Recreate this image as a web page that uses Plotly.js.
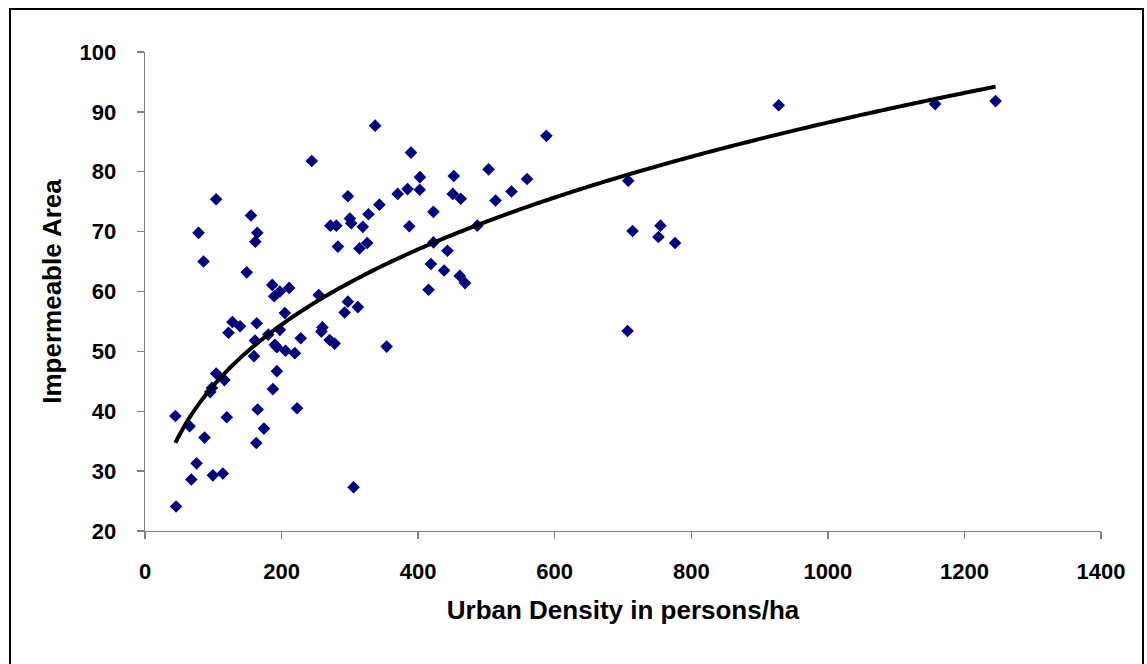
<!DOCTYPE html>
<html>
<head>
<meta charset="utf-8">
<script src="https://cdn.plot.ly/plotly-3.0.1.min.js"></script>
<style>
  html, body { margin: 0; padding: 0; background: #fff; }
  #wrap { position: relative; width: 1147px; height: 664px; overflow: hidden; }
  #chart { position: absolute; left: 0; top: 0; width: 1147px; height: 664px; }
  #frame { position: absolute; left: 9px; top: 8px; width: 1135px; height: 670px;
           border: 2.5px solid #000; pointer-events: none; box-sizing: border-box; }
</style>
</head>
<body>
<div id="wrap">
  <div id="chart"></div>
  <div id="frame"></div>
</div>
<script>
// Urban density (persons/ha)
const density = [
  244.2, 104.2, 155.2, 78.4, 164.4, 161.5, 85.7, 149.0, 271.4, 280.2,
  282.5, 186.3, 197.5, 211.1, 189.2, 254.4, 204.8, 128.0, 139.2, 163.6,
  122.2, 259.8, 258.3, 270.4, 277.7, 228.1, 180.5, 197.5, 161.1, 190.2,
  193.1, 205.8, 219.4, 159.6, 104.2, 116.3, 98.0, 95.5, 193.1, 187.3,
  44.5, 65.3, 119.8, 165.0, 222.7, 87.2, 174.2, 163.0, 75.5, 67.8,
  99.4, 114.0, 45.5, 337.0, 389.5, 402.6, 370.0, 384.5, 402.3, 297.1,
  343.3, 327.3, 300.0, 302.0, 319.0, 387.0, 314.1, 325.4, 418.7, 415.2,
  297.1, 311.7, 292.3, 353.9, 587.8, 452.2, 503.2, 559.5, 536.7, 513.4,
  450.7, 462.4, 422.4, 486.6, 422.4, 442.9, 438.0, 461.0, 468.7, 928.0,
  1157.1, 1245.6, 707.7, 714.0, 754.8, 751.9, 776.2, 706.7, 305.4
];
// Impermeable area (%)
const impermeable = [
  81.8, 75.4, 72.7, 69.8, 69.8, 68.3, 65.0, 63.2, 71.0, 71.0,
  67.5, 61.1, 60.0, 60.6, 59.2, 59.4, 56.4, 54.9, 54.2, 54.7,
  53.1, 54.0, 53.3, 51.9, 51.3, 52.2, 52.8, 53.6, 51.8, 51.1,
  50.7, 50.1, 49.7, 49.2, 46.3, 45.2, 43.9, 43.2, 46.7, 43.7,
  39.2, 37.5, 39.0, 40.3, 40.5, 35.6, 37.1, 34.7, 31.3, 28.6,
  29.3, 29.6, 24.1, 87.7, 83.2, 79.1, 76.3, 77.1, 77.0, 75.9,
  74.5, 72.9, 72.2, 71.4, 70.8, 70.9, 67.2, 68.1, 64.6, 60.3,
  58.3, 57.4, 56.5, 50.8, 86.0, 79.3, 80.4, 78.8, 76.7, 75.2,
  76.3, 75.5, 73.3, 71.0, 68.2, 66.8, 63.5, 62.6, 61.4, 91.1,
  91.3, 91.8, 78.5, 70.1, 71.0, 69.1, 68.1, 53.4, 27.3
];
const xTicks = [0, 200, 400, 600, 800, 1000, 1200, 1400];
const yTicks = [20, 30, 40, 50, 60, 70, 80, 90, 100];

// Power trendline (least squares in log-log space, as a spreadsheet does)
function powerFit(xs, ys) {
  let n = xs.length, sx = 0, sy = 0, sxx = 0, sxy = 0;
  for (let i = 0; i < n; i++) {
    const lx = Math.log(xs[i]), ly = Math.log(ys[i]);
    sx += lx; sy += ly; sxx += lx * lx; sxy += lx * ly;
  }
  const p = (n * sxy - sx * sy) / (n * sxx - sx * sx);
  const lc = (sy - p * sx) / n;
  return { c: Math.exp(lc), p: p };
}
const fit = powerFit(density, impermeable);
const xmin = Math.min(...density), xmax = Math.max(...density);
const trendX = [], trendY = [];
for (let i = 0; i <= 200; i++) {
  const x = xmin + (xmax - xmin) * i / 200;
  trendX.push(x);
  trendY.push(fit.c * Math.pow(x, fit.p));
}

const FONT = 'Arial, "Liberation Sans", Helvetica, sans-serif';

const traces = [
  {
    type: 'scatter', mode: 'markers', x: density, y: impermeable,
    marker: { symbol: 'diamond', size: 9.7, color: '#000080', line: { width: 0 } },
    hoverinfo: 'x+y', showlegend: false
  },
  {
    type: 'scatter', mode: 'lines', x: trendX, y: trendY,
    line: { color: '#000000', width: 4, shape: 'spline' },
    hoverinfo: 'skip', showlegend: false
  }
];

const layout = {
  width: 1147, height: 664,
  margin: { l: 144.5, r: 46, t: 52, b: 133, pad: 0 },
  paper_bgcolor: '#ffffff', plot_bgcolor: '#ffffff',
  showlegend: false,
  font: { family: FONT, color: '#000' },
  xaxis: {
    range: [0, 1400], tickmode: 'array', tickvals: xTicks, ticktext: xTicks.map(String),
    showgrid: false, zeroline: false,
    showline: true, linecolor: '#808080', linewidth: 1.3,
    ticks: 'outside', ticklen: 7, tickwidth: 1.3, tickcolor: '#808080',
    ticklabelstandoff: 13,
    tickfont: { family: FONT, size: 22, color: '#000', weight: 'bold' },
    title: { text: 'Urban Density in persons/ha', font: { family: FONT, size: 26, color: '#000', weight: 'bold' }, standoff: 18 }
  },
  yaxis: {
    range: [20, 100], tickmode: 'array', tickvals: yTicks, ticktext: yTicks.map(String),
    showgrid: false, zeroline: false,
    showline: true, linecolor: '#808080', linewidth: 1.3,
    ticks: 'outside', ticklen: 7, tickwidth: 1.3, tickcolor: '#808080',
    ticklabelstandoff: 16,
    tickfont: { family: FONT, size: 22, color: '#000', weight: 'bold' },
    title: { text: 'Impermeable Area', font: { family: FONT, size: 26, color: '#000', weight: 'bold' }, standoff: 10 }
  }
};

Plotly.newPlot('chart', traces, layout, { displayModeBar: false, staticPlot: true });
</script>
</body>
</html>
